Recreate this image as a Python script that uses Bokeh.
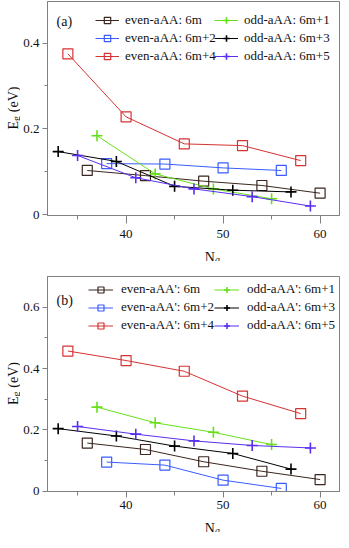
import math
from bokeh.plotting import figure
from bokeh.models import (Range1d, FixedTicker, Legend, LegendItem, Label)
from bokeh.layouts import column, row
from bokeh.embed import file_html
from bokeh.resources import INLINE

# ---------------- data ----------------
n_even0 = [36, 42, 48, 54, 60]
n_even2 = [38, 44, 50, 56]
n_even4 = [34, 40, 46, 52, 58]
n_odd1 = [37, 43, 49, 55]
n_odd3 = [33, 39, 45, 51, 57]
n_odd5 = [35, 41, 47, 53, 59]

# panel (a)  aAA
a_even0 = [0.103, 0.091, 0.078, 0.068, 0.050]
a_even2 = [0.119, 0.118, 0.109, 0.103]
a_even4 = [0.375, 0.228, 0.165, 0.161, 0.126]
a_odd1 = [0.184, 0.095, 0.060, 0.037]
a_odd3 = [0.147, 0.124, 0.066, 0.057, 0.053]
a_odd5 = [0.138, 0.086, 0.060, 0.042, 0.020]

# panel (b)  aAA'
b_even0 = [0.157, 0.136, 0.096, 0.065, 0.038]
b_even2 = [0.095, 0.085, 0.036, 0.009]
b_even4 = [0.457, 0.426, 0.391, 0.310, 0.253]
b_odd1 = [0.274, 0.223, 0.192, 0.152]
b_odd3 = [0.204, 0.180, 0.147, 0.123, 0.072]
b_odd5 = [0.211, 0.186, 0.164, 0.149, 0.141]

labels_a = ["even-aAA: 6m", "even-aAA: 6m+2", "even-aAA: 6m+4",
            "odd-aAA: 6m+1", "odd-aAA: 6m+3", "odd-aAA: 6m+5"]
labels_b = ["even-aAA': 6m", "even-aAA': 6m+2", "even-aAA': 6m+4",
            "odd-aAA': 6m+1", "odd-aAA': 6m+3", "odd-aAA': 6m+5"]

x_major = [40, 50, 60]
x_minor = [35, 45, 55]
ya_major = [0, 0.2, 0.4]
ya_minor = [0.1, 0.3]
yb_major = [0, 0.2, 0.4, 0.6]
yb_minor = [0.1, 0.3, 0.5]

colors = ["#3b2620", "#3a5cff", "#d63232", "#66e01a", "#000000", "#5a2ef0"]
markers = ["square", "square", "square", "cross", "cross", "cross"]

FONT = "Liberation Serif"
FRAME = "#808080"
TXT = "#111111"

YLAB_W = 20      # width of the strip holding the y-axis title
TOTAL_W = 341
LEFT = 25        # main plot left border (frame starts at page x = 8 + 20 + 25 = 53)


def blank(w, h):
    f = figure(width=w, height=h, title=None, x_axis_type=None, y_axis_type=None,
               x_range=Range1d(0, 1), y_range=Range1d(0, 1),
               output_backend="svg", toolbar_location=None, min_border=0)
    f.outline_line_color = None
    f.border_fill_color = "white"
    return f


def make_panel(tag, ys, labels, yr, ymaj, ymin, top, fh, bottom, xlab_h,
               xtick, xstand, leg_cfg, tag_y):
    main_w = TOTAL_W - YLAB_W
    p = figure(width=main_w, height=top + fh + bottom, title=None,
               x_range=Range1d(31.9, 62), y_range=Range1d(*yr),
               output_backend="svg", toolbar_location=None,
               min_border_left=LEFT, min_border_right=2,
               min_border_top=top, min_border_bottom=bottom)
    p.xgrid.visible = False
    p.ygrid.visible = False
    p.outline_line_color = FRAME
    p.outline_line_width = 1
    for ax in (p.xaxis[0], p.yaxis[0]):
        ax.axis_line_color = FRAME
        ax.major_tick_line_color = FRAME
        ax.minor_tick_line_color = FRAME
        ax.major_tick_in = 0
        ax.minor_tick_in = 0
        ax.major_label_text_font = FONT
        ax.major_label_text_font_size = "13px"
        ax.major_label_text_color = TXT
    p.xaxis.ticker = FixedTicker(ticks=x_major, minor_ticks=x_minor)
    p.xaxis.major_tick_out = xtick
    p.xaxis.minor_tick_out = 4
    p.xaxis.major_label_standoff = xstand
    p.yaxis.ticker = FixedTicker(ticks=ymaj, minor_ticks=ymin)
    p.yaxis.major_tick_out = 5
    p.yaxis.minor_tick_out = 3
    p.yaxis.major_label_standoff = 3
    p.yaxis.major_label_overrides = {0: "0"}

    xs = [n_even0, n_even2, n_even4, n_odd1, n_odd3, n_odd5]
    items = []
    for x, y, c, m, lab in zip(xs, ys, colors, markers, labels):
        lr = p.line(x, y, line_color=c, line_width=1)
        if m == "square":
            sr = p.scatter(x, y, marker="square", size=10, line_color=c,
                           line_width=1.2, fill_alpha=0)
        else:
            sr = p.scatter(x, y, marker="cross", size=11, line_color=c,
                           line_width=1.6)
        items.append(LegendItem(label=lab, renderers=[lr, sr]))

    gh, sp, top_off, gw, stand, x1, x2 = leg_cfg
    leg_h = 3 * gh + 2 * sp
    for k, xo in ((0, x1), (1, x2)):
        lg = Legend(items=items[3 * k:3 * k + 3], location=(xo, fh - top_off - leg_h),
                    orientation="vertical", padding=0, margin=0, spacing=sp,
                    glyph_height=gh, glyph_width=gw, label_height=gh,
                    label_standoff=stand, border_line_alpha=0,
                    background_fill_alpha=0, label_text_font=FONT,
                    label_text_font_size="13px", label_text_color=TXT)
        p.add_layout(lg)

    p.add_layout(Label(x=9, y=fh - tag_y, x_units="screen", y_units="screen",
                       text=tag, text_font=FONT, text_font_size="14px",
                       text_color=TXT, text_baseline="middle"))

    # strip below the plot holding the x-axis title N_a
    xl = blank(main_w, xlab_h)
    nb = xlab_h - 13
    xl.add_layout(Label(x=LEFT + 132.3, y=nb, x_units="screen", y_units="screen",
                        text="N", text_font=FONT, text_font_size="14px",
                        text_color=TXT, text_baseline="alphabetic"))
    xl.add_layout(Label(x=LEFT + 142.5, y=nb - 1.8, x_units="screen",
                        y_units="screen", text="a", text_font=FONT,
                        text_font_size="10px", text_font_style="italic",
                        text_color=TXT, text_baseline="alphabetic"))

    # strip left of the plot holding the rotated y-axis title E_g (eV)
    H = top + fh + bottom + xlab_h
    yl = blank(YLAB_W, H)
    yc = H - top - fh / 2
    y0 = yc - 21
    common = dict(x_units="screen", y_units="screen", angle=math.pi / 2,
                  text_font=FONT, text_color=TXT, text_baseline="alphabetic")
    yl.add_layout(Label(x=13, y=y0, text="E", text_font_size="14px", **common))
    yl.add_layout(Label(x=16, y=y0 + 8.6, text="g", text_font_size="10px", **common))
    yl.add_layout(Label(x=13, y=y0 + 17.3, text="(eV)", text_font_size="14px", **common))

    return row(yl, column(p, xl, spacing=0), spacing=0)


pa = make_panel("(a)", [a_even0, a_even2, a_even4, a_odd1, a_odd3, a_odd5],
                labels_a, (-0.002, 0.497), ya_major, ya_minor,
                top=1, fh=214, bottom=29, xlab_h=17, xtick=8, xstand=6,
                leg_cfg=(16, 2, 11, 24, 6, 48, 167), tag_y=19.5)
pb = make_panel("(b)", [b_even0, b_even2, b_even4, b_odd1, b_odd3, b_odd5],
                labels_b, (-0.001, 0.700), yb_major, yb_minor,
                top=15, fh=215, bottom=24, xlab_h=17, xtick=6, xstand=3,
                leg_cfg=(15, 2, 8, 25, 8, 41, 167), tag_y=24)

layout = column(pa, pb, spacing=0)
open("out.html", "w").write(file_html(layout, INLINE))
